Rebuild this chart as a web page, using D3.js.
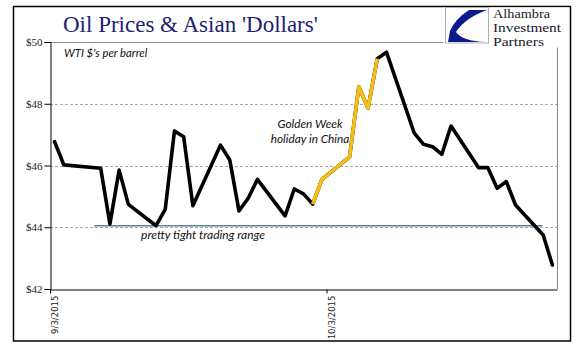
<!DOCTYPE html>
<html>
<head>
<meta charset="utf-8">
<script src="https://cdn.jsdelivr.net/npm/d3@7/dist/d3.min.js"></script>
<style>
  html, body { margin: 0; padding: 0; background: #fff; }
  svg { display: block; }
</style>
</head>
<body>
<svg id="chart" width="577" height="361"></svg>
<script>
// ---- data ----
const dates = [
  "2015-09-03","2015-09-04","2015-09-08","2015-09-09","2015-09-10","2015-09-11",
  "2015-09-14","2015-09-15","2015-09-16","2015-09-17","2015-09-18",
  "2015-09-21","2015-09-22","2015-09-23","2015-09-24","2015-09-25",
  "2015-09-28","2015-09-29","2015-09-30","2015-10-01","2015-10-02",
  "2015-10-05","2015-10-06","2015-10-07","2015-10-08","2015-10-09",
  "2015-10-12","2015-10-13","2015-10-14","2015-10-15","2015-10-16",
  "2015-10-19","2015-10-20","2015-10-21","2015-10-22","2015-10-23",
  "2015-10-26","2015-10-27"
];
const prices = [
  46.77, 46.02, 45.91, 44.11, 45.85, 44.74,
  44.05, 44.58, 47.12, 46.93, 44.70,
  46.66, 46.18, 44.53, 44.94, 45.55,
  44.37, 45.24, 45.08, 44.75, 45.55,
  46.28, 48.55, 47.85, 49.46, 49.67,
  47.06, 46.69, 46.61, 46.36, 47.28,
  45.93, 45.93, 45.26, 45.48, 44.72,
  43.75, 42.78
];
const holidayStart = "2015-10-01";
const holidayEnd = "2015-10-08";
const yTicks = [42, 44, 46, 48, 50];
const yGrid = [44, 46, 48];
const xTickDates = ["2015-09-03", "2015-10-03"];
const xTickLabels = ["9/3/2015", "10/3/2015"];
const rangeLine = { start: "2015-09-07T19:00", end: "2015-10-26T10:00", value: 44.05 };
const titleText = "Oil Prices & Asian 'Dollars'";
const subtitleText = "WTI $'s per barrel";
const noteHoliday = ["Golden Week", "holiday in China"];
const noteRange = "pretty tight trading range";
const logoLines = ["Alhambra", "Investment", "Partners"];

// ---- setup ----
const parse = s => new Date(s.length > 10 ? s : s + "T00:00");
const halfDay = 12 * 3600 * 1000;
const data = dates.map((d, i) => ({ date: new Date(parse(d).getTime() + halfDay), value: prices[i] }));

const svg = d3.select("#chart");
const L = 50, R = 557, T = 42, B = 289;

const x = d3.scaleTime()
  .domain([parse("2015-09-03"), parse("2015-10-28")])
  .range([L, R]);
const y = d3.scaleLinear().domain([42, 50]).range([B, T]);

// frame
svg.append("rect")
  .attr("x", 13.5).attr("y", 6.5).attr("width", 557).attr("height", 334.5)
  .attr("fill", "#fff").attr("stroke", "#000").attr("stroke-width", 1.5);

// gridlines
svg.append("g").selectAll("line").data(yGrid).join("line")
  .attr("x1", L).attr("x2", R)
  .attr("y1", d => Math.round(y(d)) + 0.5).attr("y2", d => Math.round(y(d)) + 0.5)
  .attr("stroke", "#a8a8a8").attr("stroke-width", 1).attr("stroke-dasharray", "3,2");

// plot border top & right
svg.append("line").attr("x1", L).attr("x2", R).attr("y1", T + 0.5).attr("y2", T + 0.5)
  .attr("stroke", "#8a8a8a").attr("stroke-width", 1);
svg.append("line").attr("x1", R + 0.5).attr("x2", R + 0.5).attr("y1", T).attr("y2", B)
  .attr("stroke", "#8a8a8a").attr("stroke-width", 1);

// trading range line
svg.append("line")
  .attr("x1", x(parse(rangeLine.start))).attr("x2", x(parse(rangeLine.end)))
  .attr("y1", y(rangeLine.value)).attr("y2", y(rangeLine.value))
  .attr("stroke", "#5f8396").attr("stroke-width", 1.5);

// axes
const yAxis = d3.axisLeft(y).tickValues(yTicks).tickFormat(d => "$" + d).tickSize(6).tickPadding(2);
const gy = svg.append("g").attr("transform", `translate(${L + 0.5},0)`).call(yAxis);
gy.select(".domain").attr("stroke", "#000");
gy.selectAll(".tick line").attr("stroke", "#000");
gy.selectAll("text").attr("font-family", "Liberation Serif").attr("font-size", 11).attr("fill", "#222");

const xAxis = d3.axisBottom(x).tickValues(xTickDates.map(parse))
  .tickFormat((d, i) => xTickLabels[i]).tickSize(4).tickSizeOuter(0);
const gx = svg.append("g").attr("transform", `translate(0,${B + 0.5})`).call(xAxis);
gx.select(".domain").attr("stroke", "#000");
gx.selectAll(".tick line").attr("stroke", "#000");
gx.selectAll("text")
  .attr("font-family", "DejaVu Sans Condensed, DejaVu Sans").attr("font-size", 9.5).attr("fill", "#222")
  .attr("transform", "rotate(-90)")
  .attr("text-anchor", "end")
  .attr("x", -6).attr("y", 0).attr("dy", "0.8em");

// line
const line = d3.line().x(d => x(d.date)).y(d => y(d.value));
svg.append("path").datum(data)
  .attr("d", line).attr("fill", "none").attr("stroke", "#000")
  .attr("stroke-width", 3.6).attr("stroke-linejoin", "round").attr("stroke-linecap", "round");

const hs = parse(holidayStart).getTime(), he = parse(holidayEnd).getTime() + halfDay * 2;
const holiday = data.filter(d => d.date.getTime() >= hs && d.date.getTime() < he);
svg.append("path").datum(holiday)
  .attr("d", line).attr("fill", "none").attr("stroke", "#f6bd16")
  .attr("stroke-width", 3.6).attr("stroke-linejoin", "round").attr("stroke-linecap", "butt");

// annotations
svg.append("text").attr("x", 64).attr("y", 57)
  .attr("font-family", "Lato").attr("font-style", "italic").attr("font-size", 11.3)
  .attr("fill", "#111").text(subtitleText);

const hol = svg.append("text")
  .attr("font-family", "Lato").attr("font-style", "italic").attr("font-size", 11.8)
  .attr("fill", "#111").attr("text-anchor", "middle");
hol.selectAll("tspan").data(noteHoliday).join("tspan")
  .attr("x", 310).attr("y", (d, i) => 128 + i * 15).text(d => d);

svg.append("text").attr("x", 203).attr("y", 239)
  .attr("font-family", "Lato").attr("font-style", "italic").attr("font-size", 12)
  .attr("fill", "#111").attr("text-anchor", "middle").text(noteRange);

// title
svg.append("text").attr("x", 63).attr("y", 32)
  .attr("font-family", "Liberation Serif").attr("font-size", 23)
  .attr("fill", "#1c1f72").text(titleText);

// logo
svg.append("rect").attr("x", 443).attr("y", 7.5).attr("width", 126).attr("height", 40)
  .attr("fill", "#fff");
svg.append("rect").attr("x", 445.5).attr("y", 7.5).attr("width", 43).attr("height", 35.5)
  .attr("fill", "#fff").attr("stroke", "#b0b0b0").attr("stroke-width", 1);
svg.append("path")
  .attr("d", "M487,10 L469,10 Q455,19 450,31 L448,42 L486,42 Q462,41 456,32 Q465,18 487,10 Z")
  .attr("fill", "#0d1a8a");
svg.append("g").selectAll("text").data(logoLines).join("text")
  .attr("x", 493).attr("y", (d, i) => 17.5 + i * 14)
  .attr("font-family", "Liberation Serif").attr("font-size", 13.5)
  .attr("textLength", (d, i) => [57, 68, 51][i]).attr("lengthAdjust", "spacingAndGlyphs")
  .attr("fill", "#1a1a2e").text(d => d);
</script>
</body>
</html>
